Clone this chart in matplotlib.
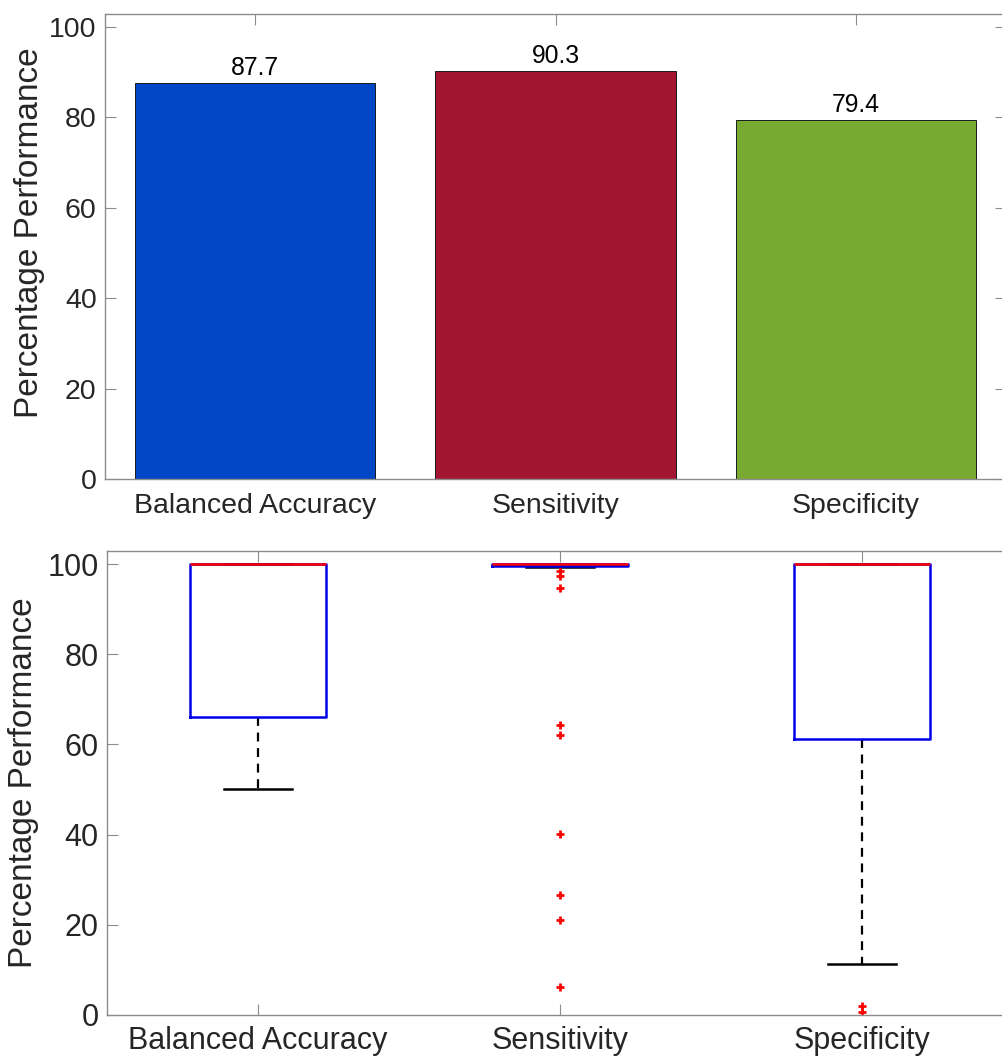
import matplotlib
matplotlib.use("Agg")
import matplotlib.pyplot as plt

plt.rcParams['font.family'] = ['Liberation Sans', 'DejaVu Sans']

# Mean performance per metric
categories = ["Balanced Accuracy", "Sensitivity", "Specificity"]
mean_values = [87.7, 90.3, 79.4]
bar_colors = ["#0047C8", "#A21632", "#78AA32"]

# Distribution summary per metric (percent)
q1 = [66.0, 99.5, 61.2]
medians = [100.0, 100.0, 100.0]
q3 = [100.0, 100.0, 100.0]
whisker_low = [50.1, 99.3, 11.3]
whisker_high = [100.0, 100.0, 100.0]
outliers = [
    [],
    [98.4, 97.3, 94.7, 64.3, 62.1, 40.1, 26.6, 21.1, 6.3],
    [2.0, 0.6],
]

yticks = [0, 20, 40, 60, 80, 100]
spine_gray = "#8C8C8C"
text_gray = "#262626"

fig = plt.figure(figsize=(10.02, 10.59), dpi=100)
W, H = 1002.0, 1059.0

def frame(ax, tick_size):
    for s in ax.spines.values():
        s.set_color(spine_gray)
        s.set_linewidth(1.0)
    ax.tick_params(direction="in", length=8, width=0.8, color=spine_gray,
                   top=True, right=True, labelsize=tick_size, labelcolor=text_gray,
                   pad=6)
    ax.set_yticks(yticks)
    ax.set_ylim(0, 102.9)
    ax.set_xlim(0.5, 3.5)

# ---- Bar chart of means ----
ax1 = fig.add_axes([105 / W, 1 - 479 / H, (1006 - 105) / W, (479 - 14) / H])
xs = [1, 2, 3]
ax1.bar(xs, mean_values, width=0.8, color=bar_colors, edgecolor="#1a1a1a",
        linewidth=0.7, zorder=2)
for x, v in zip(xs, mean_values):
    ax1.text(x, v + 0.6, f"{v:.1f}", ha="center", va="bottom",
             fontsize=17.8, color="black")
frame(ax1, 20.5)
ax1.set_xticks(xs)
ax1.set_xticklabels(categories)
ax1.tick_params(axis="x", pad=10)
ax1.set_ylabel("Percentage Performance", fontsize=24, color=text_gray)
ax1.yaxis.set_label_coords(-0.067, 0.53)

# ---- Box plot of distributions ----
ax2 = fig.add_axes([107 / W, 1 - 1015 / H, (1013 - 107) / W, (1015 - 551) / H])
stats = []
for i, name in enumerate(categories):
    stats.append(dict(label=name, med=medians[i], q1=q1[i], q3=q3[i],
                      whislo=whisker_low[i], whishi=whisker_high[i],
                      fliers=outliers[i]))
ax2.bxp(stats, positions=xs, widths=0.45, showfliers=True,
        boxprops=dict(color="#0000E6", linewidth=1.8, zorder=3),
        medianprops=dict(color="#FF0000", linewidth=1.8, zorder=4),
        whiskerprops=dict(color="black", linewidth=1.6, linestyle=(0, (4, 3)),
                          zorder=2),
        capprops=dict(color="black", linewidth=1.8, zorder=2),
        capwidths=0.225,
        flierprops=dict(marker="+", markeredgecolor="#FF0000", markersize=6,
                        markeredgewidth=2.0, linestyle="none"),
        manage_ticks=False)
frame(ax2, 22)
ax2.set_xticks(xs)
ax2.set_xticklabels(categories)
ax2.tick_params(axis="x", pad=8)
ax2.set_ylabel("Percentage Performance", fontsize=24, color=text_gray, labelpad=6)

fig.savefig("out.png", dpi=100)
